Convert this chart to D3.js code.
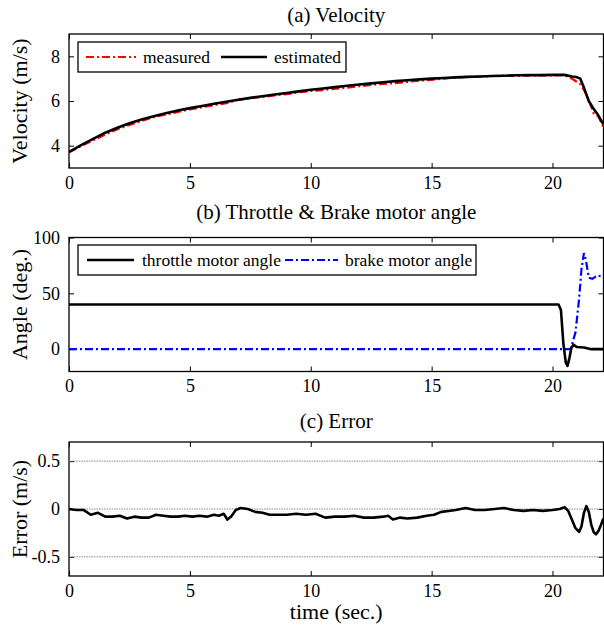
<!DOCTYPE html>
<html><head><meta charset="utf-8">
<script src="https://cdn.jsdelivr.net/npm/d3@7"></script>
<style>body{margin:0;background:#fff;} svg{display:block;} svg text{font-family:"Liberation Serif","Times New Roman",serif !important;fill:#000;}</style>
</head><body>
<script>
// ---------- data ----------
const velTime = [0,0.5,1,1.5,2,2.5,3,3.5,4,4.5,5,5.5,6,6.5,7,7.5,8,8.5,9,9.5,10,10.5,11,11.5,12,12.5,13,13.5,14,14.5,15,15.5,16,16.5,17,17.5,18,18.5,19,19.5,20,20.5,20.8,21.0,21.15,21.3,21.5,21.7,21.9,22.1];
const velEstimated = [3.72,4.02,4.3,4.58,4.8,5.0,5.17,5.32,5.45,5.57,5.68,5.78,5.88,5.97,6.06,6.14,6.21,6.29,6.36,6.43,6.5,6.56,6.62,6.68,6.74,6.79,6.84,6.89,6.93,6.97,7.0,7.03,7.06,7.08,7.1,7.12,7.13,7.15,7.16,7.16,7.17,7.17,7.1,7.07,7.0,6.6,6.0,5.65,5.35,4.95];
const velMeasured  = [3.7,3.98,4.24,4.5,4.74,4.93,5.1,5.28,5.39,5.51,5.62,5.72,5.82,5.9,6.05,6.13,6.18,6.25,6.31,6.39,6.45,6.49,6.55,6.6,6.66,6.72,6.77,6.8,6.86,6.91,6.95,7.0,7.05,7.08,7.09,7.12,7.14,7.12,7.14,7.15,7.15,7.16,7.0,6.86,6.75,6.5,6.05,5.45,5.3,4.85];

const throttleTime = [0,20.25,20.35,20.45,20.55,20.62,20.7,20.78,20.87,21.0,21.3,21.6,22.1];
const throttleAngle = [40,40,35,5,-12,-15,-8,1,4,2,1.5,0,0];
const brakeTime = [0,20.75,20.95,21.1,21.2,21.3,21.38,21.5,21.65,21.85,22.1];
const brakeAngle = [0,0,15,45,72,86,80,64,63,66,65];

const errTime = [0,0.3,0.6,0.9,1.2,1.5,1.8,2.1,2.4,2.7,3.0,3.3,3.6,3.9,4.2,4.5,4.8,5.1,5.4,5.7,6.0,6.2,6.4,6.55,6.7,6.9,7.1,7.4,7.7,8.0,8.3,8.6,9.0,9.4,9.8,10.2,10.6,11.0,11.4,11.8,12.2,12.6,13.0,13.2,13.4,13.7,14.0,14.4,14.8,15.1,15.4,15.7,16.0,16.4,16.8,17.2,17.6,18.0,18.4,18.8,19.2,19.6,20.0,20.3,20.5,20.65,20.8,20.95,21.1,21.2,21.3,21.4,21.5,21.6,21.7,21.8,21.9,22.0,22.1];
const errValue = [0,-0.01,-0.01,-0.06,-0.04,-0.08,-0.08,-0.07,-0.1,-0.08,-0.09,-0.09,-0.06,-0.07,-0.08,-0.08,-0.07,-0.08,-0.07,-0.08,-0.06,-0.07,-0.05,-0.11,-0.08,-0.01,0.01,0.0,-0.03,-0.04,-0.06,-0.06,-0.06,-0.05,-0.06,-0.05,-0.09,-0.08,-0.08,-0.07,-0.09,-0.09,-0.08,-0.07,-0.11,-0.09,-0.1,-0.09,-0.07,-0.06,-0.03,-0.02,-0.01,0.01,-0.01,-0.01,0.0,0.01,-0.01,-0.02,-0.01,-0.02,-0.01,0.0,0.02,-0.02,-0.11,-0.2,-0.24,-0.18,-0.04,0.03,-0.03,-0.16,-0.24,-0.265,-0.23,-0.17,-0.1];

const xTicks = [0,5,10,15,20];
const velTicks = [4,6,8];
const angleTicks = [0,50,100];
const errTicks = [-0.5,0,0.5];
const errTickLabels = ["-0.5","0","0.5"];

// ---------- layout ----------
const W = 604, H = 630;
const L = 69, R = 603.5;
const FONT = '"Liberation Serif","Times New Roman",serif';
const svg = d3.select("body").append("svg").attr("width", W).attr("height", H).attr("font-family", FONT);
const x = d3.scaleLinear().domain([0, 20 * (R - L) / 483.5]).range([L, R]);

function panel(top, bottom, yDomain, yTicks, yLabels, title, ylabel, titleY) {
  const y = d3.scaleLinear().domain(yDomain).range([bottom, top]);
  const g = svg.append("g");
  g.append("g").attr("transform", `translate(0,${bottom})`)
    .call(d3.axisBottom(x).tickValues(xTicks).tickSizeInner(-5).tickSizeOuter(0).tickPadding(8).tickFormat(d3.format("d")))
    .call(s => s.select(".domain").remove());
  g.append("g").attr("transform", `translate(0,${top})`)
    .call(d3.axisTop(x).tickValues(xTicks).tickSizeInner(-5).tickSizeOuter(0).tickFormat(""))
    .call(s => s.select(".domain").remove());
  g.append("g").attr("transform", `translate(${L},0)`)
    .call(d3.axisLeft(y).tickValues(yTicks).tickSizeInner(-5).tickSizeOuter(0).tickPadding(9).tickFormat((d,i) => yLabels[i]))
    .call(s => s.select(".domain").remove());
  g.append("g").attr("transform", `translate(${R},0)`)
    .call(d3.axisRight(y).tickValues(yTicks).tickSizeInner(-5).tickSizeOuter(0).tickFormat(""))
    .call(s => s.select(".domain").remove());
  g.selectAll("g").attr("font-family", FONT).attr("font-size", 18);
  g.selectAll(".tick text").style("font-family", FONT).style("font-size", "18px").attr("fill", "#000");
  g.selectAll(".tick line").attr("stroke", "#000").attr("stroke-width", 1);
  g.append("rect").attr("x", L).attr("y", top).attr("width", R - L).attr("height", bottom - top)
    .attr("fill", "none").attr("stroke", "#000").attr("stroke-width", 1.3);
  svg.append("text").attr("x", (L + R) / 2).attr("y", titleY).attr("text-anchor", "middle")
    .style("font-size", "21px").text(title);
  svg.append("text").attr("transform", `translate(27,${(top + bottom) / 2}) rotate(-90)`)
    .attr("text-anchor", "middle").style("font-size", "22px").text(ylabel);
  const clipId = "clip" + Math.round(top);
  svg.append("clipPath").attr("id", clipId).append("rect").attr("x", L).attr("y", top).attr("width", R - L).attr("height", bottom - top);
  const plot = svg.append("g").attr("clip-path", `url(#${clipId})`);
  return {y, plot, g};
}

function legend(x0, y0, w, h, items) {
  const lg = svg.append("g");
  lg.append("rect").attr("x", x0).attr("y", y0).attr("width", w).attr("height", h)
    .attr("fill", "#fff").attr("stroke", "#000").attr("stroke-width", 1.3);
  items.forEach(it => {
    lg.append("line").attr("x1", it.x1).attr("x2", it.x2).attr("y1", y0 + h / 2).attr("y2", y0 + h / 2)
      .attr("stroke", it.color).attr("stroke-width", it.width).attr("stroke-dasharray", it.dash || null);
    lg.append("text").attr("x", it.tx).attr("y", y0 + h / 2 + 6).style("font-size", "17.5px").text(it.label);
  });
}

const dashDot = "8,3,2,3";

// ---- (a) Velocity ----
const pa = panel(34, 168, [3, 9], velTicks, velTicks.map(String), "(a) Velocity", "Velocity (m/s)", 22);
const lineA = d3.line().x(d => x(d[0])).y(d => pa.y(d[1]));
pa.plot.append("path").datum(velTime.map((t, i) => [t, velMeasured[i]])).attr("d", lineA)
  .attr("fill", "none").attr("stroke", "#ff0000").attr("stroke-width", 2.2).attr("stroke-dasharray", dashDot);
pa.plot.append("path").datum(velTime.map((t, i) => [t, velEstimated[i]])).attr("d", lineA)
  .attr("fill", "none").attr("stroke", "#000").attr("stroke-width", 2.6).attr("stroke-linejoin", "round");
legend(78, 42, 268, 30, [
  {x1: 86, x2: 136, color: "#ff0000", width: 2.2, dash: dashDot, tx: 143, label: "measured"},
  {x1: 221, x2: 267, color: "#000", width: 2.6, tx: 274, label: "estimated"}
]);

// ---- (b) Angle ----
const pb = panel(237.5, 371.5, [-20, 100], angleTicks, angleTicks.map(String), "(b) Throttle & Brake motor angle", "Angle (deg.)", 219);
const lineB = d3.line().x(d => x(d[0])).y(d => pb.y(d[1]));
pb.plot.append("path").datum(brakeTime.map((t, i) => [t, brakeAngle[i]])).attr("d", lineB)
  .attr("fill", "none").attr("stroke", "#0000ff").attr("stroke-width", 2.2).attr("stroke-dasharray", dashDot);
pb.plot.append("path").datum(throttleTime.map((t, i) => [t, throttleAngle[i]])).attr("d", lineB)
  .attr("fill", "none").attr("stroke", "#000").attr("stroke-width", 2.6).attr("stroke-linejoin", "round");
legend(78, 245, 398, 30, [
  {x1: 87, x2: 134, color: "#000", width: 2.6, tx: 142, label: "throttle motor angle"},
  {x1: 285, x2: 338, color: "#0000ff", width: 2.2, dash: dashDot, tx: 345, label: "brake motor angle"}
]);

// ---- (c) Error ----
const pc = panel(442, 576, [-0.7, 0.7], errTicks, errTickLabels, "(c) Error", "Error (m/s)", 428);
pc.plot.selectAll("line.grid").data(errTicks).enter().append("line").attr("class", "grid")
  .attr("x1", L).attr("x2", R).attr("y1", d => pc.y(d)).attr("y2", d => pc.y(d))
  .attr("stroke", "#888").attr("stroke-width", 1).attr("stroke-dasharray", "1.5,1");
const lineC = d3.line().x(d => x(d[0])).y(d => pc.y(d[1]));
pc.plot.append("path").datum(errTime.map((t, i) => [t, errValue[i]])).attr("d", lineC)
  .attr("fill", "none").attr("stroke", "#000").attr("stroke-width", 2.6).attr("stroke-linejoin", "round");
svg.append("text").attr("x", (L + R) / 2).attr("y", 619).attr("text-anchor", "middle").style("font-size", "22px").text("time (sec.)");
</script>
</body></html>
